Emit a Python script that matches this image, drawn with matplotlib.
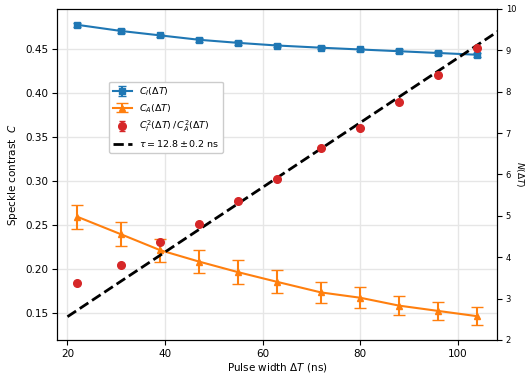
import numpy as np
import matplotlib
matplotlib.use('Agg')
import matplotlib.pyplot as plt

pulse_width = [22, 31, 39, 47, 55, 63, 72, 80, 88, 96, 104]
c_i = [0.477, 0.470, 0.465, 0.460, 0.4565, 0.4535, 0.451, 0.449, 0.447, 0.445, 0.443]
c_i_err = [0.002] * 11
c_a = [0.259, 0.239, 0.221, 0.208, 0.196, 0.185, 0.173, 0.167, 0.158, 0.152, 0.146]
c_a_err = [0.0135, 0.0135, 0.0130, 0.0130, 0.0135, 0.0130, 0.0120, 0.0120, 0.0110, 0.0100, 0.0100]
ratio = [3.37, 3.81, 4.36, 4.80, 5.36, 5.89, 6.64, 7.12, 7.75, 8.40, 9.05]
ratio_err = [0.05] * 11
tau = 12.8
fit_x = [20, 110]

fig = plt.figure(figsize=(5.3, 3.74), dpi=100)
ax = fig.add_axes([0.108, 0.091, 0.829, 0.885])
ax2 = ax.twinx()

h1 = ax.errorbar(pulse_width, c_i, yerr=c_i_err, fmt='-s', color='tab:blue',
                 markersize=5, capsize=3, lw=1.5, label=r'$C_I(\Delta T)$')
h2 = ax.errorbar(pulse_width, c_a, yerr=c_a_err, fmt='-^', color='tab:orange',
                 markersize=5, capsize=4, lw=1.5, label=r'$C_A(\Delta T)$')
h3 = ax2.errorbar(pulse_width, ratio, yerr=ratio_err, fmt='o', color='tab:red',
                  markersize=5.5, capsize=2, label=r'$C_I^2(\Delta T)\,/\,C_A^2(\Delta T)$')
fit_y = [1 + x / tau for x in fit_x]
h4, = ax2.plot(fit_x, fit_y, '--', color='black', lw=2,
               label=r'$\tau = 12.8 \pm 0.2$ ns')

ax.set_xlim(17.9, 108)
ax.set_ylim(0.119, 0.495)
ax2.set_ylim(2, 10)
ax.grid(True, color='#e6e6e6', lw=1)
ax.set_axisbelow(True)

ax.set_xlabel(r'Pulse width $\Delta T$ (ns)', fontsize=7.5, labelpad=1.5)
ax.set_ylabel(r'Speckle contrast  $C$', fontsize=7.5, labelpad=4)
ax2.set_ylabel(r'$N(\Delta T)$', fontsize=6.5, rotation=270, labelpad=7)
ax.tick_params(labelsize=7.5, pad=3)
ax2.tick_params(labelsize=6, pad=3)

ax2.legend(handles=[h1, h2, h3, h4], loc='upper left',
           bbox_to_anchor=(0.107, 0.795), fontsize=6.8, framealpha=1,
           borderpad=0.4, labelspacing=0.45)

fig.savefig('out.png', dpi=100)
